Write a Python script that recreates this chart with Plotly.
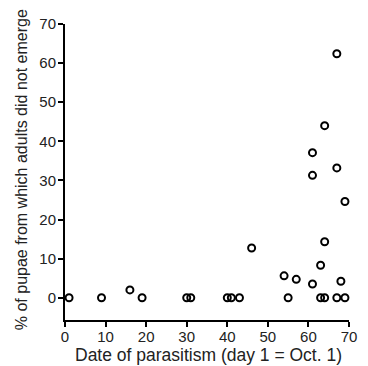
import plotly.graph_objects as go

day = [1, 9, 16, 19, 30, 31, 40, 41, 43, 46, 54, 55, 57, 61, 61, 61, 63, 63, 64, 64, 64, 67, 67, 67, 68, 69, 69]
pct = [0, 0, 2.0, 0, 0, 0, 0, 0, 0, 12.7, 5.6, 0, 4.7, 37.1, 31.3, 3.5, 8.3, 0, 44.0, 14.3, 0, 62.4, 33.2, 0, 4.2, 24.6, 0]
x_ticks = [0, 10, 20, 30, 40, 50, 60, 70]
y_ticks = [0, 10, 20, 30, 40, 50, 60, 70]
x_title = "Date of parasitism (day 1 = Oct. 1)"
y_title = "% of pupae from which adults did not emerge"

fam = "Liberation Sans, Arial, sans-serif"
tick_font = dict(family=fam, size=15, color="#222")
xtitle_font = dict(family=fam, size=17.5, color="#222")
ytitle_font = dict(family=fam, size=16, color="#222")

W, H = 368, 366
ML, MR, MT, MB = 65, 11, 24, 46
PW, PH = W - ML - MR, H - MT - MB

fig = go.Figure()
fig.add_trace(go.Scatter(
    x=day, y=pct, mode="markers",
    marker=dict(symbol="circle-open", size=7, color="black", line=dict(width=2, color="black")),
    cliponaxis=False, showlegend=False,
))

axis_common = dict(
    showline=True, linecolor="black", linewidth=2,
    ticks="outside", ticklen=5, tickwidth=2, tickcolor="black",
    showgrid=False, zeroline=False, tickfont=tick_font,
)
fig.update_layout(
    width=W, height=H,
    margin=dict(l=ML, r=MR, t=MT, b=MB),
    plot_bgcolor="white", paper_bgcolor="white",
    font=tick_font,
    xaxis=dict(range=[0, 70], tickvals=x_ticks, ticktext=[str(v) for v in x_ticks],
               ticklabelstandoff=-3, **axis_common),
    yaxis=dict(range=[-5.7, 70], tickvals=y_ticks, ticktext=[str(v) for v in y_ticks],
               ticklabelstandoff=-1, **axis_common),
    annotations=[
        dict(text=x_title, xref="paper", yref="paper",
             x=(213 - ML) / PW, y=(H - 355 - MB) / PH,
             xanchor="center", yanchor="middle", showarrow=False, font=xtitle_font),
        dict(text=y_title, xref="paper", yref="paper", textangle=-90,
             x=(20 - ML) / PW, y=(H - 170 - MB) / PH,
             xanchor="center", yanchor="middle", showarrow=False, font=ytitle_font),
    ],
)
fig.write_html("out.html", config={"displayModeBar": False},
               post_script="document.body.style.margin='0';")
